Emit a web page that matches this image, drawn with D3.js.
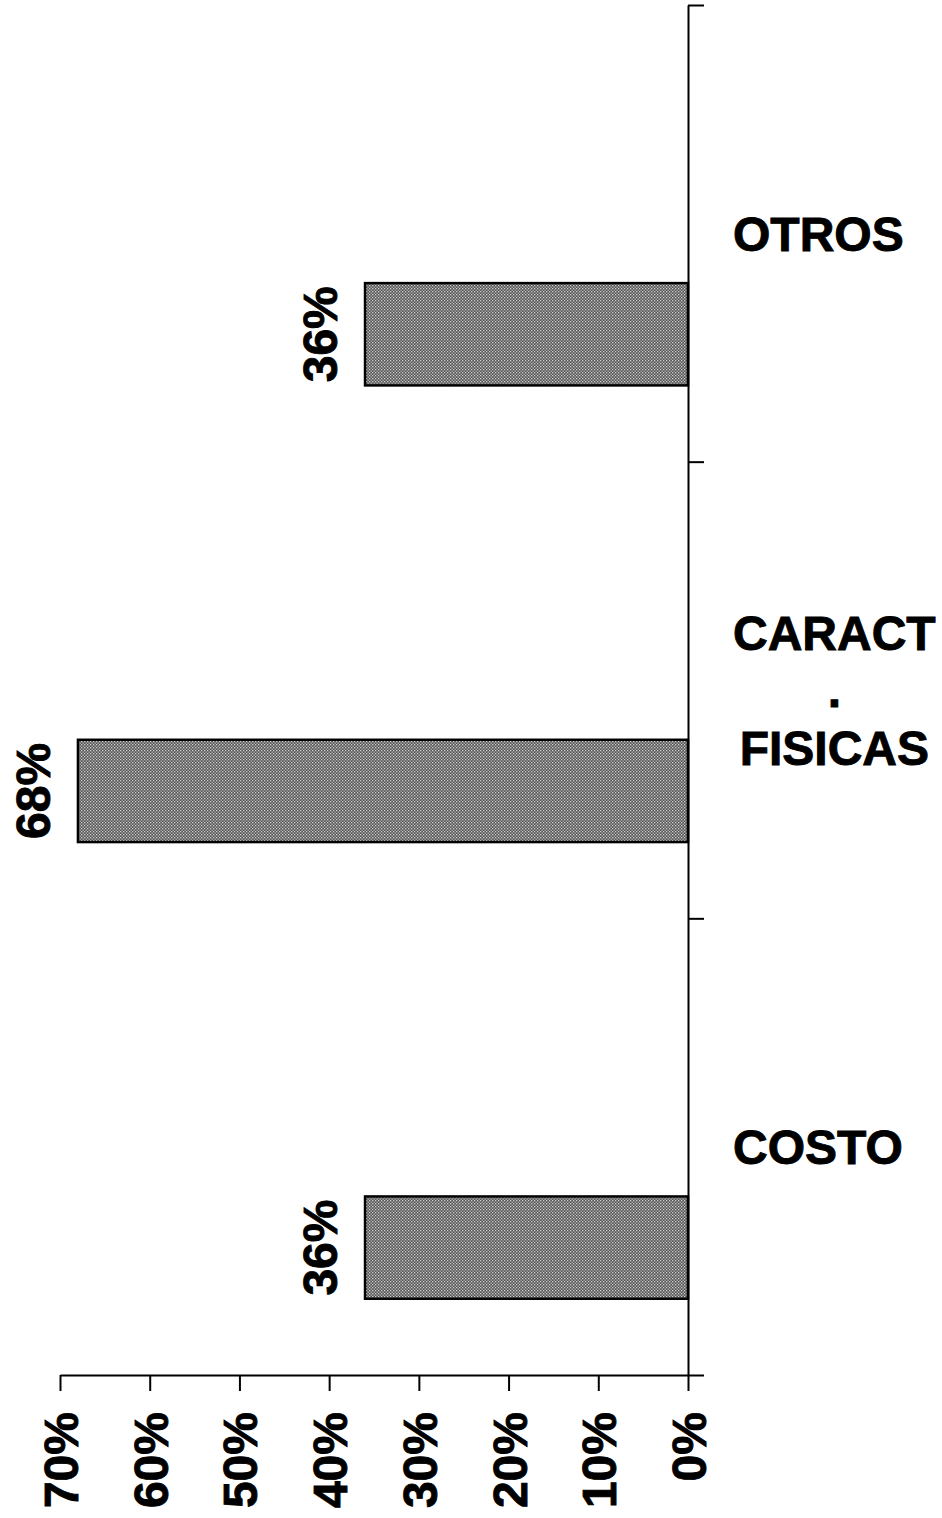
<!DOCTYPE html>
<html>
<head>
<meta charset="utf-8">
<script src="https://cdn.jsdelivr.net/npm/d3@7"></script>
<style>
  html,body{margin:0;padding:0;background:#fff;}
  svg{display:block;}
  text{font-family:"Liberation Sans",Arial,sans-serif;font-weight:bold;fill:#000;stroke:#000;stroke-width:0.9px;}
</style>
</head>
<body>
<svg id="chart" width="942" height="1518"></svg>
<script>
// categories top to bottom, each label split into lines
const categories=["OTROS","CARACT . FISICAS","COSTO"];
const categoryLines=[["OTROS"],["CARACT",".","FISICAS"],["COSTO"]];
const values=[0.36,0.68,0.36];
const tickValues=[0,0.1,0.2,0.3,0.4,0.5,0.6,0.7];

const svg=d3.select("#chart");
const fontSize=48;

// value axis runs right to left
const x=d3.scaleLinear().domain([0,0.7]).range([688,60]);
const y=d3.scaleBand().domain(categories).range([5,1375]).paddingInner(0).paddingOuter(0);
const yEdges=d3.scaleLinear().domain([0,categories.length]).range([5,1375]);

// fill pattern, dotted gray like the print
const defs=svg.append("defs");
const pat=defs.append("pattern")
  .attr("id","dots")
  .attr("width",3)
  .attr("height",3)
  .attr("patternUnits","userSpaceOnUse");
pat.append("rect").attr("width",3).attr("height",3).attr("fill","#555");
pat.append("rect").attr("x",0).attr("y",0).attr("width",1.3).attr("height",1.3).attr("fill","#d0d0d0");
pat.append("rect").attr("x",1.5).attr("y",1.5).attr("width",1.3).attr("height",1.3).attr("fill","#c4c4c4");

// bars
const bw=y.bandwidth();
svg.selectAll("rect.bar")
  .data(categories)
  .enter()
    .append("rect")
    .attr("class","bar")
    .attr("x",(d,i)=>x(values[i]))
    .attr("y",(d)=>y(d)+bw*0.609)
    .attr("width",(d,i)=>x(0)-x(values[i]))
    .attr("height",bw*0.224)
    .attr("fill","url(#dots)")
    .attr("stroke","#000")
    .attr("stroke-width",2.5);

// value labels, rotated
svg.selectAll("text.val")
  .data(categories)
  .enter()
    .append("text")
    .attr("class","val")
    .attr("font-size",fontSize)
    .attr("text-anchor","middle")
    .attr("transform",(d,i)=>`translate(${x(values[i])-28},${y(d)+bw*0.609+bw*0.112}) rotate(-90)`)
    .text((d,i)=>Math.round(values[i]*100)+"%");

// bottom axis
const xAxis=d3.axisBottom(x)
  .tickValues(tickValues)
  .tickSize(16)
  .tickSizeOuter(0)
  .tickFormat("");
const gx=svg.append("g")
  .attr("transform","translate(0,1375)")
  .call(xAxis);
gx.selectAll("path,line").attr("stroke","#000").attr("stroke-width",2);

svg.selectAll("text.tick")
  .data(tickValues)
  .enter()
    .append("text")
    .attr("class","tick")
    .attr("font-size",fontSize)
    .attr("text-anchor","end")
    .attr("transform",(d)=>`translate(${x(d)+18},1412) rotate(-90)`)
    .text(d3.format(".0%"));

// right-hand category axis with boundary ticks
const yAxis=d3.axisRight(yEdges)
  .tickValues(d3.range(categories.length+1))
  .tickSize(16)
  .tickSizeOuter(0)
  .tickFormat("");
const gy=svg.append("g")
  .attr("transform","translate(688,0)")
  .call(yAxis);
gy.selectAll("path,line").attr("stroke","#000").attr("stroke-width",2);

// category labels
const lineGap=57.5;
categories.forEach((c,i)=>{
  const lines=categoryLines[i];
  const g=svg.append("g");
  const mid=y(c)+bw/2;
  const texts=g.selectAll("text")
    .data(lines)
    .enter()
      .append("text")
      .attr("font-size",fontSize)
      .attr("text-anchor","middle")
      .attr("y",(d,j)=>mid+fontSize*0.36+(j-(lines.length-1)/2)*lineGap)
      .text((d)=>d);
  let maxW=0;
  texts.each(function(){maxW=Math.max(maxW,this.getComputedTextLength());});
  texts.attr("x",733+maxW/2);
});
</script>
</body>
</html>
